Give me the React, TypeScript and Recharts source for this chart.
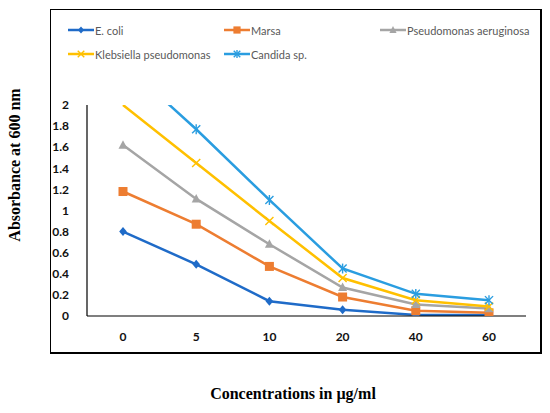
import React from 'react';
import { LineChart, Line, XAxis, YAxis } from 'recharts';

// --- data ---
const concentrations = ['0', '5', '10', '20', '40', '60'];
const eColi = [0.8, 0.49, 0.14, 0.06, 0.01, 0.01];
const marsa = [1.18, 0.87, 0.47, 0.18, 0.05, 0.03];
const pseudomonas = [1.62, 1.11, 0.68, 0.27, 0.11, 0.07];
const klebsiella = [2.0, 1.45, 0.9, 0.36, 0.15, 0.09];
const candida = [2.4, 1.77, 1.1, 0.45, 0.21, 0.15];
const yTicks = [0, 0.2, 0.4, 0.6, 0.8, 1, 1.2, 1.4, 1.6, 1.8, 2];

type Shape = 'diamond' | 'square' | 'triangle' | 'x' | 'star';

const series: { key: string; name: string; values: number[]; color: string; shape: Shape }[] = [
    { key: 'ecoli', name: 'E. coli', values: eColi, color: '#1f6bc8', shape: 'diamond' },
    { key: 'marsa', name: 'Marsa', values: marsa, color: '#ed7d31', shape: 'square' },
    { key: 'pseudo', name: 'Pseudomonas aeruginosa', values: pseudomonas, color: '#a5a5a5', shape: 'triangle' },
    { key: 'kleb', name: 'Klebsiella pseudomonas', values: klebsiella, color: '#ffc000', shape: 'x' },
    { key: 'candida', name: 'Candida sp.', values: candida, color: '#2a9de0', shape: 'star' },
];

const chartData = concentrations.map((c, i) => {
    const row: Record<string, string | number> = { conc: c };
    series.forEach(s => { row[s.key] = s.values[i]; });
    return row;
});

// --- marker drawing ---
const Marker = ({ cx, cy, shape, color, size = 1 }: { cx: number; cy: number; shape: Shape; color: string; size?: number }) => {
    const r = 4.5 * size;
    if (shape === 'diamond') {
        return <polygon points={`${cx},${cy - r} ${cx + r * 0.85},${cy} ${cx},${cy + r} ${cx - r * 0.85},${cy}`} fill={color} />;
    }
    if (shape === 'square') {
        return <rect x={cx - r} y={cy - r} width={r * 2} height={r * 2} fill={color} />;
    }
    if (shape === 'triangle') {
        return <polygon points={`${cx},${cy - r * 1.1} ${cx + r},${cy + r * 0.8} ${cx - r},${cy + r * 0.8}`} fill={color} />;
    }
    const d = r * 0.9;
    return (
        <g stroke={color} strokeWidth={1.4}>
            <line x1={cx - d} y1={cy - d} x2={cx + d} y2={cy + d} />
            <line x1={cx - d} y1={cy + d} x2={cx + d} y2={cy - d} />
            {shape === 'star' && <line x1={cx} y1={cy - r * 1.1} x2={cx} y2={cy + r * 1.1} />}
        </g>
    );
};

// points on or above the top of the plot are not marked (Excel clips them)
const makeDot = (shape: Shape, color: string) => (props: any) => {
    const { cx, cy, index } = props;
    if (cx == null || cy == null || cy < 107) return <g key={index} />;
    return <Marker key={index} cx={cx} cy={cy} shape={shape} color={color} />;
};

const tickStyle = { fontFamily: 'Lato', fontWeight: 700, fontSize: 12, fill: '#111' };

const legendPos = [
    { left: 68, top: 23 },
    { left: 224, top: 23 },
    { left: 380, top: 23 },
    { left: 68, top: 47 },
    { left: 224, top: 47 },
];

const App: React.FC = () => {
    return (
        <div style={{ position: 'absolute', left: 0, top: 0, width: 550, height: 413, background: '#fff' }}>
            {/* frame */}
            <div style={{ position: 'absolute', left: 50, top: 9, width: 489, height: 342, border: '1.5px solid #000', borderRightWidth: 2.5, borderBottomWidth: 2 }} />

            {/* legend */}
            {series.map((s, i) => (
                <div key={s.key} style={{ position: 'absolute', left: legendPos[i].left, top: legendPos[i].top, display: 'flex', alignItems: 'center', fontFamily: 'Lato', fontSize: 11, color: '#595959', whiteSpace: 'nowrap' }}>
                    <svg width={26} height={14}>
                        <line x1={0} y1={7} x2={26} y2={7} stroke={s.color} strokeWidth={2.5} />
                        <Marker cx={13} cy={7} shape={s.shape} color={s.color} size={0.8} />
                    </svg>
                    <span style={{ marginLeft: 1 }}>{s.name}</span>
                </div>
            ))}

            <div style={{ position: 'absolute', left: 0, top: 0 }}>
                <LineChart width={550} height={413} data={chartData} margin={{ top: 105, right: 24, left: 27, bottom: 67 }}>
                    <XAxis
                        dataKey="conc"
                        height={30}
                        padding={{ left: 36, right: 37 }}
                        axisLine={{ stroke: '#000', strokeWidth: 1.2 }}
                        tickLine={false}
                        tick={tickStyle}
                        tickMargin={10}
                    />
                    <YAxis
                        width={60}
                        domain={[0, 2]}
                        ticks={yTicks}
                        allowDataOverflow
                        interval={0}
                        axisLine={{ stroke: '#000', strokeWidth: 1.2 }}
                        tickLine={false}
                        tick={tickStyle}
                        tickMargin={12}
                    />
                    {series.map(s => (
                        <Line
                            key={s.key}
                            dataKey={s.key}
                            name={s.name}
                            stroke={s.color}
                            strokeWidth={2.5}
                            dot={makeDot(s.shape, s.color)}
                            activeDot={false}
                            isAnimationActive={false}
                        />
                    ))}
                </LineChart>
            </div>

            {/* axis titles */}
            <div style={{ position: 'absolute', left: 15, top: 165, transform: 'translate(-50%, -50%) rotate(-90deg)', fontFamily: 'Liberation Serif', fontWeight: 700, fontSize: 16, whiteSpace: 'nowrap', color: '#000' }}>
                Absorbance at 600 nm
            </div>
            <div style={{ position: 'absolute', left: 293, top: 394, transform: 'translate(-50%, -50%)', fontFamily: 'Liberation Serif', fontWeight: 700, fontSize: 16, whiteSpace: 'nowrap', color: '#000' }}>
                Concentrations in µg/ml
            </div>
        </div>
    );
};

export default App;
